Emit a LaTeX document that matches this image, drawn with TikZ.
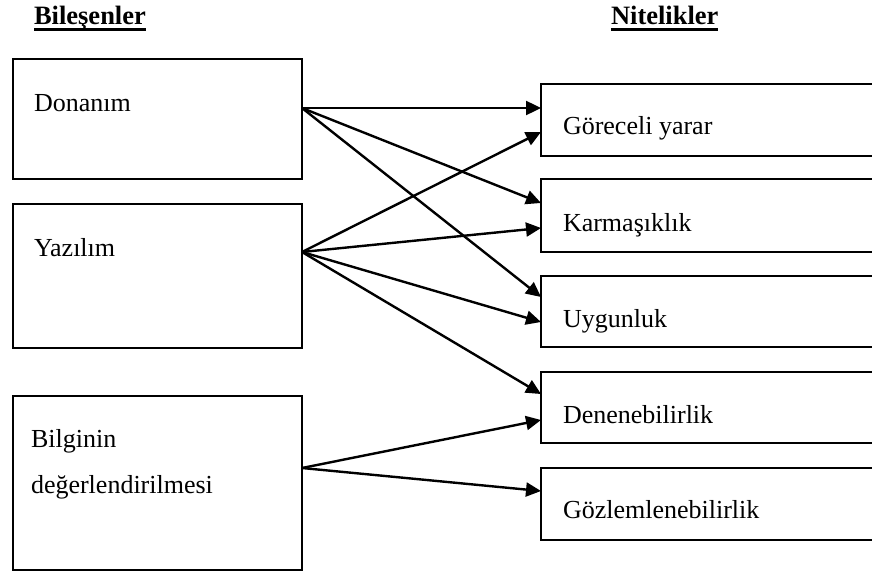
\documentclass[tikz,border=0pt]{standalone}
\usepackage{fontspec}
\setmainfont{Liberation Serif}
\usetikzlibrary{arrows.meta}
\begin{document}
\begin{tikzpicture}[x=1pt,y=-1pt,
  every node/.style={inner sep=0pt,outer sep=0pt},
  box/.style={draw,line width=2.2pt,anchor=north west,minimum width=#1},
  lbl/.style={anchor=base west,font=\fontsize{26}{30}\selectfont},
  hdr/.style={anchor=base west,font=\fontsize{26.5}{30}\selectfont\bfseries},
  uline/.style={line width=2.5pt},
  arr/.style={line width=2.4pt,-{Triangle[length=15pt,width=14pt]}}]
\useasboundingbox (0,0) rectangle (872,575);

% headings
\node[hdr] (hl) at (34,25) {Bileşenler};
\node[hdr] (hr) at (611,25) {Nitelikler};
\draw[uline] ([yshift=-4.5pt]hl.base west) -- ([yshift=-4.5pt]hl.base east);
\draw[uline] ([yshift=-4.5pt]hr.base west) -- ([yshift=-4.5pt]hr.base east);

% components
\node[box=289pt,minimum height=120pt] (don) at (13,59) {};
\node[box=289pt,minimum height=144pt] (yaz) at (13,204) {};
\node[box=289pt,minimum height=174pt] (bil) at (13,396) {};
\node[lbl] at (34,112) {Donanım};
\node[lbl] at (34,256) {Yazılım};
\node[lbl] at (31,447) {Bilginin};
\node[lbl] at (31,493) {değerlendirilmesi};

% attributes (boxes run past the right edge)
\node[box=350pt,minimum height=72pt] (gor) at (541,84) {};
\node[box=350pt,minimum height=73pt] (kar) at (541,179) {};
\node[box=350pt,minimum height=71pt] (uyg) at (541,276) {};
\node[box=350pt,minimum height=71pt] (den) at (541,372) {};
\node[box=350pt,minimum height=72pt] (goz) at (541,468) {};
\node[lbl] at (563,135) {Göreceli yarar};
\node[lbl] at (563,231) {Karmaşıklık};
\node[lbl] at (563,327) {Uygunluk};
\node[lbl] at (563,423) {Denenebilirlik};
\node[lbl] at (563,518) {Gözlemlenebilirlik};

% connector ends
\coordinate (donO) at (302,108);
\coordinate (yazO) at (302,252);
\coordinate (bilO) at (302,468);
\coordinate (gor1) at (541,108);
\coordinate (gor2) at (541,132);
\coordinate (kar1) at (541,203);
\coordinate (kar2) at (541,228);
\coordinate (uyg1) at (541,297);
\coordinate (uyg2) at (541,322);
\coordinate (den1) at (541,394);
\coordinate (den2) at (541,420);
\coordinate (goz1) at (541,491);

% relations
\draw[arr] (donO) -- (gor1);
\draw[arr] (donO) -- (kar1);
\draw[arr] (donO) -- (uyg1);
\draw[arr] (yazO) -- (gor2);
\draw[arr] (yazO) -- (kar2);
\draw[arr] (yazO) -- (uyg2);
\draw[arr] (yazO) -- (den1);
\draw[arr] (bilO) -- (den2);
\draw[arr] (bilO) -- (goz1);
\end{tikzpicture}
\end{document}
